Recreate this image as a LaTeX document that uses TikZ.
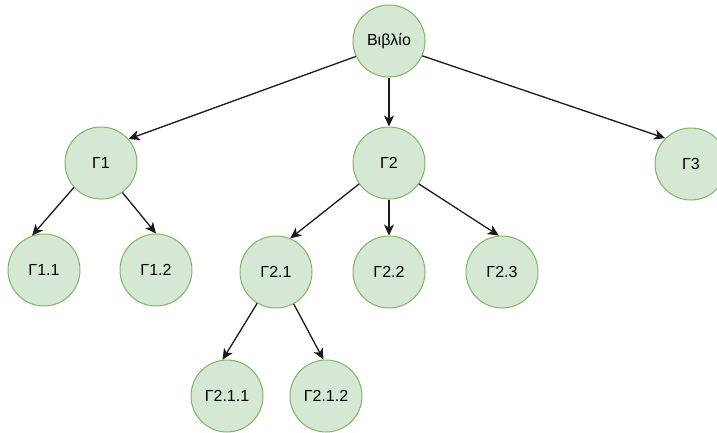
\documentclass[tikz,border=0pt]{standalone}
\usepackage{fontspec}
\setmainfont{Liberation Sans}
\usetikzlibrary{arrows.meta}

\definecolor{nodefill}{HTML}{D5E8D4}
\definecolor{nodeline}{HTML}{82B366}
\definecolor{linkline}{HTML}{1A1A1A}

\tikzset{
  chapter/.style={circle,draw=nodeline,fill=nodefill,line width=1pt,
    minimum size=72pt,inner sep=0pt,font=\fontsize{16}{18}\selectfont},
  link/.style={draw=linkline,line width=1.3pt,
    -{Stealth[length=11pt,width=10pt,inset=3pt]}}
}

\begin{document}
\begin{tikzpicture}[x=1pt,y=-1pt]
      \useasboundingbox (0,0) rectangle (717,432);

      \node[chapter] (book) at (389,41) {Βιβλίο};

      \node[chapter] (g1) at (101,163) {Γ1};
      \node[chapter] (g2) at (389,163) {Γ2};
      \node[chapter] (g3) at (691,164) {Γ3};

      \node[chapter] (g11) at (44,270) {Γ1.1};
      \node[chapter] (g12) at (156,270) {Γ1.2};
      \node[chapter] (g21) at (276,272) {Γ2.1};
      \node[chapter] (g22) at (389,272) {Γ2.2};
      \node[chapter] (g23) at (502,272) {Γ2.3};

      \node[chapter] (g211) at (227,396) {Γ2.1.1};
      \node[chapter] (g212) at (326,396) {Γ2.1.2};

      \draw[link] (book.205) -- (g1.41);
      \draw[link] (book.south) -- (g2.north);
      \draw[link] (book.-24) -- (g3.135);

      \draw[link] (g1.222) -- (g11.109);
      \draw[link] (g1.-54) -- (g12.north);

      \draw[link] (g2.215) -- (g21.67);
      \draw[link] (g2.south) -- (g22.north);
      \draw[link] (g2.-35) -- (g23.95);

      \draw[link] (g21.239) -- (g211.97);
      \draw[link] (g21.-61) -- (g212.94);
\end{tikzpicture}
\end{document}
